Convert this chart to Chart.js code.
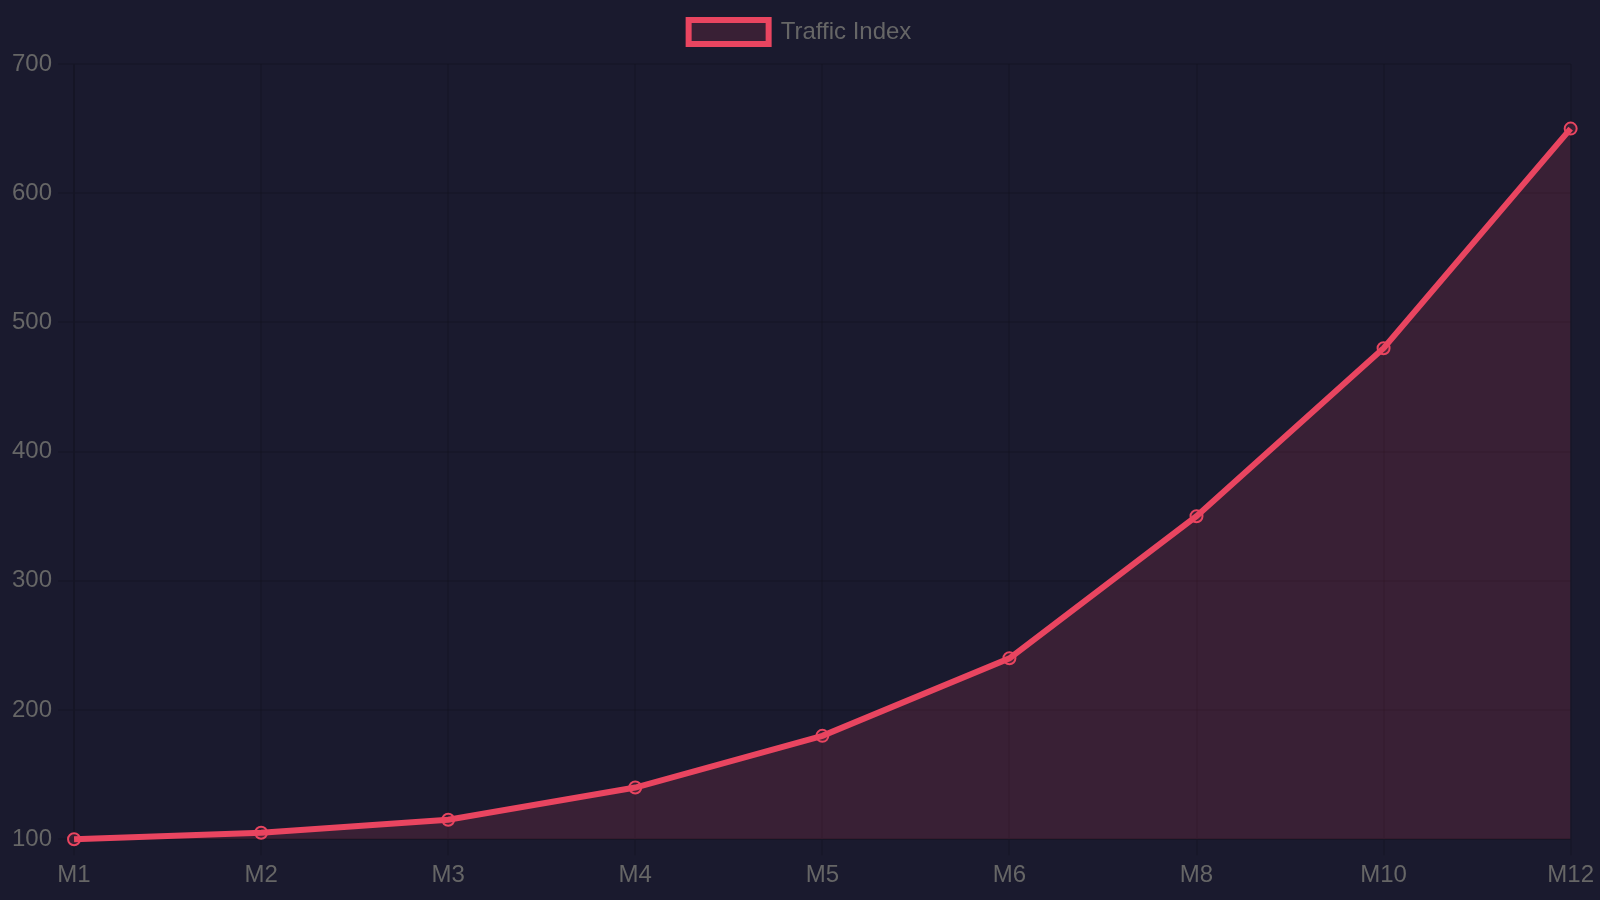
<!DOCTYPE html>
<html>
<head>
<meta charset="utf-8">
<script src="https://cdn.jsdelivr.net/npm/chart.js@4/dist/chart.umd.min.js"></script>
<style>
  html, body { margin: 0; padding: 0; background: #1a1a2e; width: 1600px; height: 900px; }
  #trafficChart { display: block; transform: scale(2); transform-origin: 0 0; }
</style>
</head>
<body>
<canvas id="trafficChart" width="800" height="450"></canvas>
<script>
// data
const monthLabels = ['M1', 'M2', 'M3', 'M4', 'M5', 'M6', 'M8', 'M10', 'M12'];
const trafficValues = [100, 105, 115, 140, 180, 240, 350, 480, 650];
const yTicks = [100, 200, 300, 400, 500, 600, 700];

document.addEventListener('DOMContentLoaded', function() {
    const ctx = document.getElementById('trafficChart');

    // drawn at half size with pixel ratio 2, then scaled up to fill the window
    new Chart(ctx, {
        type: 'line',
        data: {
            labels: monthLabels,
            datasets: [{
                label: 'Traffic Index',
                data: trafficValues,
                fill: true,
                clip: false,
                borderColor: '#e94560',
                backgroundColor: 'rgba(233, 69, 96, 0.15)',
                pointBackgroundColor: 'rgba(233, 69, 96, 0.15)',
                pointBorderColor: '#e94560',
                pointBorderWidth: 1,
                borderWidth: 3,
                pointRadius: 3,
                pointHoverRadius: 3,
                tension: 0
            }]
        },
        options: {
            responsive: false,
            devicePixelRatio: 2,
            animation: false,
            events: [],
            scales: {
                y: {
                    min: yTicks[0],
                    max: yTicks[yTicks.length - 1],
                    ticks: { stepSize: 100 },
                    afterFit: axis => { axis.width += 3; }
                },
                x: {
                    afterFit: axis => { axis.height += 2; }
                }
            }
        }
    });
});
</script>
</body>
</html>
